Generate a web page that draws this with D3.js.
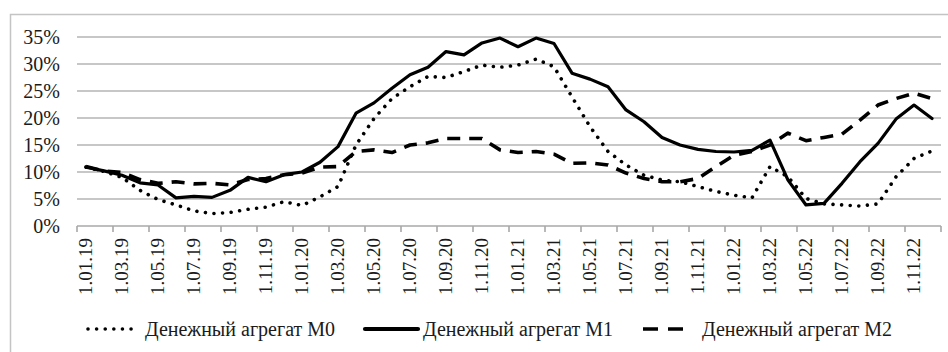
<!DOCTYPE html>
<html><head><meta charset="utf-8">
<script src="https://cdn.jsdelivr.net/npm/d3@7"></script>
<style>html,body{margin:0;padding:0;background:#fff;}svg{display:block;}</style>
</head><body>
<svg id="c" width="948" height="352"></svg>
<script>
const months = [
"1.01.19","1.02.19","1.03.19","1.04.19","1.05.19","1.06.19","1.07.19","1.08.19","1.09.19","1.10.19","1.11.19","1.12.19",
"1.01.20","1.02.20","1.03.20","1.04.20","1.05.20","1.06.20","1.07.20","1.08.20","1.09.20","1.10.20","1.11.20","1.12.20",
"1.01.21","1.02.21","1.03.21","1.04.21","1.05.21","1.06.21","1.07.21","1.08.21","1.09.21","1.10.21","1.11.21","1.12.21",
"1.01.22","1.02.22","1.03.22","1.04.22","1.05.22","1.06.22","1.07.22","1.08.22","1.09.22","1.10.22","1.11.22","1.12.22"];
const m0 = [10.9,10.1,9.0,6.6,4.9,3.9,2.8,2.3,2.5,3.1,3.5,4.5,
            3.8,5.4,7.3,15.0,19.9,23.6,25.8,27.7,27.5,28.6,29.8,29.4,
            29.8,30.9,29.5,23.9,18.4,13.8,11.3,9.4,8.5,8.2,7.3,6.4,
            5.7,5.2,11.0,9.1,5.1,4.1,3.9,3.7,4.1,9.1,12.5,13.9];
const m1 = [10.9,10.2,9.4,8.0,7.6,5.2,5.5,5.3,6.6,9.0,8.2,9.5,
            10.0,11.8,14.7,20.9,22.8,25.5,28.0,29.4,32.3,31.7,33.9,34.8,
            33.2,34.8,33.8,28.3,27.2,25.8,21.5,19.3,16.4,15.0,14.2,13.8,
            13.7,14.0,15.9,8.5,3.9,4.2,7.9,11.9,15.3,19.8,22.4,19.9];
const m2 = [11.0,10.2,9.9,8.6,7.9,8.2,7.8,7.9,7.6,8.6,8.8,9.5,
            9.8,10.9,11.0,13.8,14.1,13.6,15.0,15.4,16.2,16.2,16.2,14.1,
            13.6,13.8,13.3,11.6,11.7,11.3,9.8,8.8,8.2,8.2,8.8,11.0,
            13.1,13.8,15.0,17.2,15.8,16.4,17.0,19.6,22.4,23.6,24.6,23.6];
const yTicks = [0,5,10,15,20,25,30,35];
const seriesNames = ["Денежный агрегат М0","Денежный агрегат М1","Денежный агрегат М2"];

const svg = d3.select("#c");
const font = "Liberation Serif, Times New Roman, serif";
const L = 77, R = 941, T = 37, B = 226;
const idx = d3.range(months.length);
const x = d3.scaleBand().domain(idx).range([L, R]).padding(0);
const y = d3.scaleLinear().domain([0, 35]).range([B, T]);
const cx = i => x(i) + x.bandwidth()/2;

// outer border
svg.append("rect").attr("x",10.5).attr("y",14.5).attr("width",946).attr("height",346)
  .attr("fill","none").attr("stroke","#c4c4c4").attr("stroke-width",1.5);

// gridlines
svg.append("g").selectAll("line").data(yTicks.filter(v=>v>0)).join("line")
  .attr("x1",L).attr("x2",R).attr("y1",d=>y(d)).attr("y2",d=>y(d))
  .attr("stroke","#b4b4b4").attr("stroke-width",1.6);

// y axis labels
const yAxis = d3.axisLeft(y).tickValues(yTicks).tickSize(0).tickPadding(0).tickFormat(d=>d+"%");
const gy = svg.append("g").attr("transform",`translate(${L-17},0)`).call(yAxis);
gy.attr("font-family",font);
gy.select(".domain").remove();
gy.selectAll("text").attr("font-family",font).attr("font-size",20).attr("fill","#1a1a1a");

// x axis line and boundary ticks
svg.append("line").attr("x1",L).attr("x2",R).attr("y1",B).attr("y2",B).attr("stroke","#a8a8a8").attr("stroke-width",1.6);
const tickPos = idx.filter(i=>i%2===0).map(i=>x(i)).concat([R]);
svg.append("g").selectAll("line").data(tickPos).join("line")
  .attr("x1",d=>d).attr("x2",d=>d).attr("y1",B).attr("y2",B+6)
  .attr("stroke","#a8a8a8").attr("stroke-width",1.6);

// x labels
const xAxis = d3.axisBottom(x).tickValues(idx.filter(i=>i%2===0)).tickSize(0).tickFormat(i=>months[i]);
const gx = svg.append("g").attr("transform",`translate(0,${B})`).call(xAxis);
gx.attr("font-family",font);
gx.select(".domain").remove();
gx.selectAll(".tick text")
  .attr("font-family",font).attr("font-size",19).attr("fill","#1a1a1a")
  .attr("text-anchor","end").attr("y",0).attr("x",-12).attr("dy","0.33em")
  .attr("transform","rotate(-90)");

const line = d3.line().x((d,i)=>cx(i)).y(d=>y(d));
const styles = [
  {data:m0, w:3.6, dash:"0.01 8.6", cap:"round"},
  {data:m1, w:3.2, dash:null, cap:"round"},
  {data:m2, w:3.6, dash:"13 9", cap:"butt"}
];
styles.forEach(s=>{
  svg.append("path").datum(s.data).attr("d",line).attr("fill","none")
    .attr("stroke","#000").attr("stroke-width",s.w).attr("stroke-linejoin","round")
    .attr("stroke-linecap",s.cap).attr("stroke-dasharray",s.dash);
});

// legend
const legX = [{lx:88, lw:47, tx:145},{lx:365, lw:53, tx:423},{lx:643, lw:47, tx:702}];
const legY = 329;
styles.forEach((s,k)=>{
  const p = legX[k];
  svg.append("line").attr("x1",p.lx).attr("x2",p.lx+p.lw).attr("y1",legY).attr("y2",legY)
    .attr("stroke","#000").attr("stroke-width",s.w+ (k===1?1:0)).attr("stroke-linecap",s.cap)
    .attr("stroke-dasharray",k===2?"15 10":s.dash);
  svg.append("text").attr("x",p.tx).attr("y",legY+7).attr("font-family",font).attr("font-size",20)
    .attr("fill","#1a1a1a").text(seriesNames[k]);
});
</script>
</body></html>
